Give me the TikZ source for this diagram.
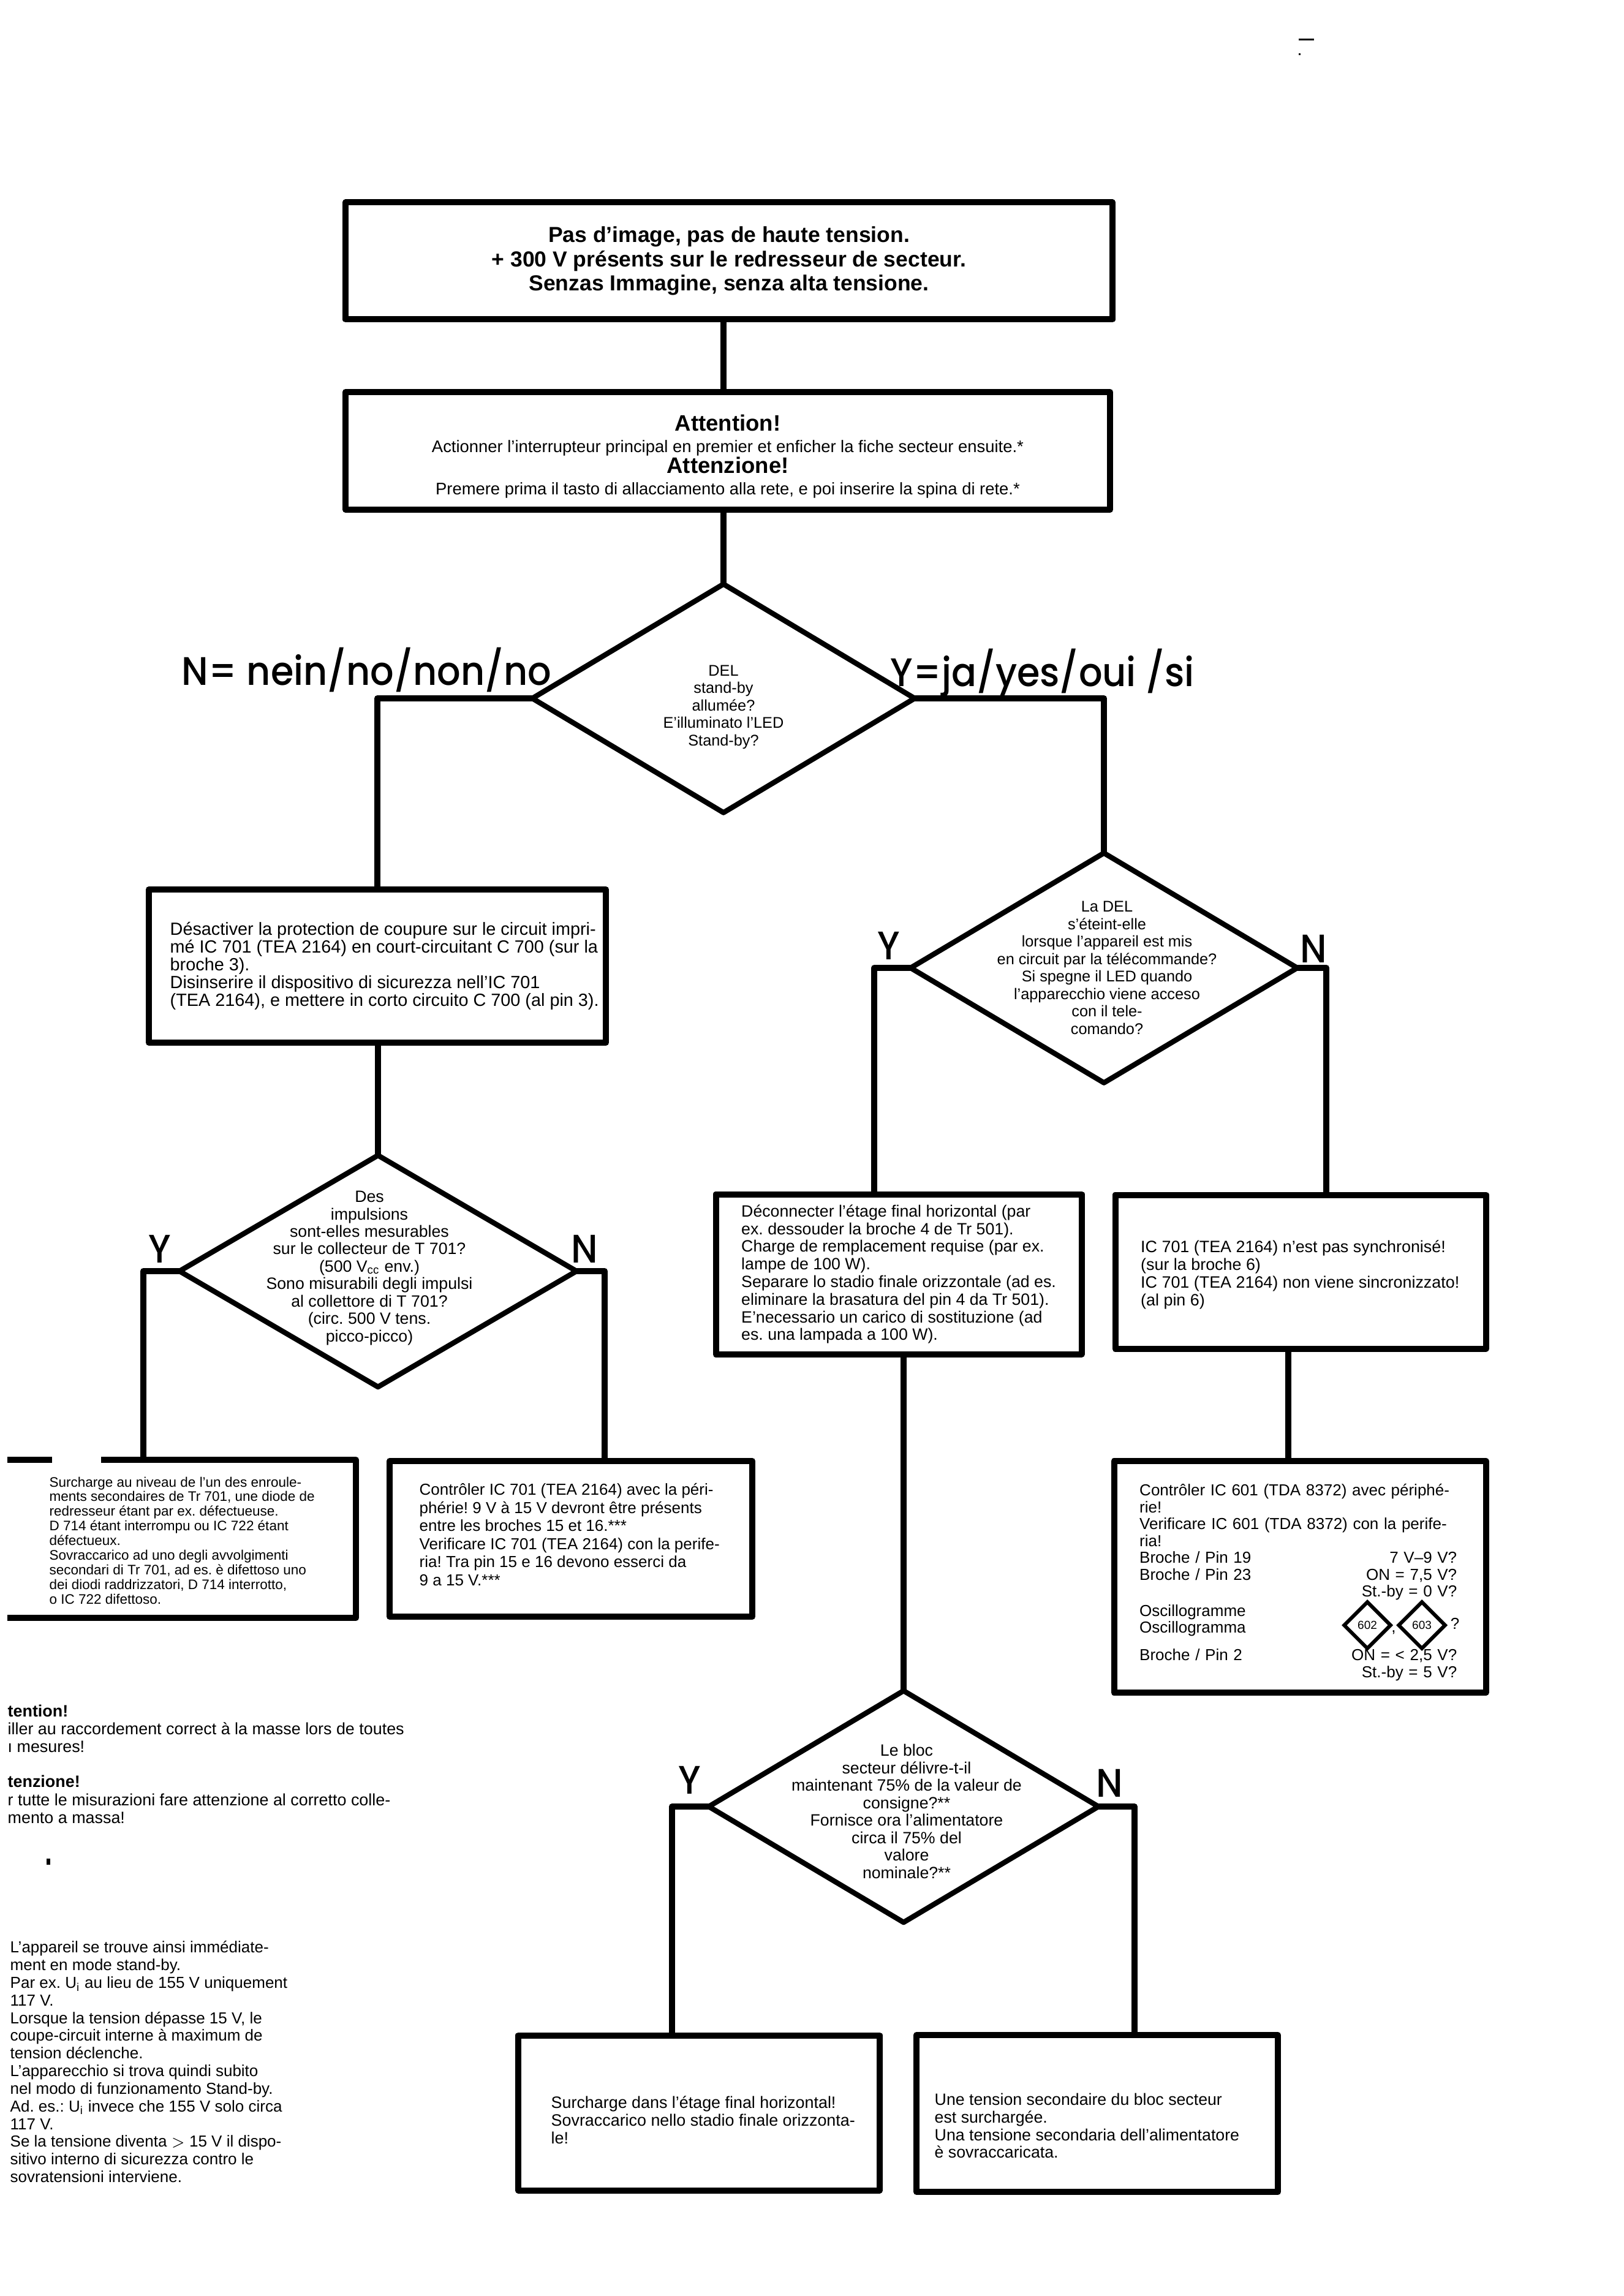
\documentclass[tikz,border=0pt]{standalone}
\usepackage{fontspec}
\setmainfont{Liberation Sans}
\newfontfamily\labelfont[FakeStretch=0.93]{Poppins Medium}
\usepackage{tikz}
\usetikzlibrary{shapes.geometric}
\tikzset{
  box/.style={draw,rectangle,line width=0.10cm,line join=round,inner sep=0pt},
  boxtext/.style={anchor=west,align=left,inner sep=0pt},
  cond/.style={draw,diamond,line width=0.085cm,line join=round,inner sep=0pt,outer sep=0pt,aspect=1.7},
  condtext/.style={align=center,inner sep=0pt,font=\frenchspacing\fontsize{7.2}{8.1}\selectfont},
  conn/.style={line width=0.10cm,line join=round},
  letter/.style={inner sep=0pt,font=\labelfont\fontsize{18.5}{18.5}\selectfont},
  banner/.style={inner sep=0pt,font=\labelfont\fontsize{18.5}{18.5}\selectfont},
  note/.style={anchor=north west,align=left,inner sep=0pt,font=\frenchspacing\fontsize{7.4}{8.2}\selectfont},
  scope602/.style={draw,diamond,line width=0.06cm,aspect=1,inner sep=0pt,minimum size=0.78cm,font=\fontsize{5.4}{6}\selectfont},
}
\newcommand{\boxfont}[2]{\frenchspacing\fontsize{#1}{#2}\selectfont}
\begin{document}
\begin{tikzpicture}
  \useasboundingbox (0,0) rectangle (26.5,-37.48);
  % top boxes
  \node[box,minimum width=12.52cm,minimum height=1.91cm,align=center,font=\boxfont{10.1}{11.2}\bfseries] (B1) at (11.90,-4.26)
    {Pas d'image, pas de haute tension.\\+ 300 V présents sur le redresseur de secteur.\\Senzas Immagine, senza alta tensione.};
  \node[box,minimum width=12.48cm,minimum height=1.92cm] (B2) at (11.88,-7.36) {};
  \node[align=center,inner sep=0pt,font=\boxfont{7.8}{9.8}] (T0) at ([yshift=-0.09cm]B2)
    {{\fontsize{10.4}{9.8}\selectfont\bfseries Attention!}\\Actionner l'interrupteur principal en premier et enficher la fiche secteur ensuite.*\\
     {\fontsize{10.4}{9.8}\selectfont\bfseries Attenzione!}\\Premere prima il tasto di allacciamento alla rete, e poi inserire la spina di rete.*};
  % conditions
  \node[cond,minimum width=6.24cm,minimum height=3.73cm] (D1) at (11.81,-11.40) {};
  \node[condtext] (T1) at ([yshift=-0.14cm]D1) {DEL\\stand-by\\allumée?\\E'illuminato l'LED\\Stand-by?};
  \node[cond,minimum width=6.31cm,minimum height=3.75cm] (D2) at (18.02,-15.80) {};
  \node[condtext] (T2) at ([xshift=0.05cm]D2) {La DEL\\s'éteint-elle\\lorsque l'appareil est mis\\en circuit par la télécommande?\\Si spegne il LED quando\\l'apparecchio viene acceso\\con il tele-\\comando?};
  \node[cond,minimum width=6.48cm,minimum height=3.78cm] (D3) at (6.17,-20.75) {};
  \node[condtext,font=\boxfont{7.6}{8.1}] (T3) at ([xshift=-0.14cm,yshift=0.05cm]D3) {Des\\impulsions\\sont-elles mesurables\\sur le collecteur de T 701?\\(500 V\textsubscript{cc} env.)\\Sono misurabili degli impulsi\\al collettore di T 701?\\(circ. 500 V tens.\\picco-picco)};
  \node[cond,minimum width=6.36cm,minimum height=3.78cm] (D4) at (14.75,-29.49) {};
  \node[condtext,font=\boxfont{7.6}{8.1}] (T4) at ([xshift=0.05cm,yshift=-0.08cm]D4) {Le bloc\\secteur délivre-t-il\\maintenant 75\% de la valeur de\\consigne?**\\Fornisce ora l'alimentatore\\circa il 75\% del\\valore\\nominale?**};
  % text boxes
  \node[box,minimum width=7.46cm,minimum height=2.50cm] (B3) at (6.16,-15.77) {};
  \node[boxtext,font=\boxfont{8.2}{8.2}] (T5) at ([xshift=0.39cm]B3.west)
    {Désactiver la protection de coupure sur le circuit impri-\\mé IC 701 (TEA 2164) en court-circuitant C 700 (sur la\\broche 3).\\Disinserire il dispositivo di sicurezza nell'IC 701\\(TEA 2164), e mettere in corto circuito C 700 (al pin 3).};
  \node[box,minimum width=5.92cm,minimum height=2.54cm] (B5) at (9.32,-25.12) {};
  \node[boxtext,font=\boxfont{7.4}{8.4}] (T6) at ([xshift=0.53cm,yshift=0.07cm]B5.west)
    {Contrôler IC 701 (TEA 2164) avec la péri-\\phérie! 9 V à 15 V devront être présents\\entre les broches 15 et 16.***\\Verificare IC 701 (TEA 2164) con la perife-\\ria! Tra pin 15 e 16 devono esserci da\\9 a 15 V.***};
  \node[box,minimum width=5.97cm,minimum height=2.61cm] (B6) at (14.67,-20.80) {};
  \node[boxtext,font=\boxfont{7.6}{8.2}] (T7) at ([xshift=0.46cm]B6.west)
    {Déconnecter l'étage final horizontal (par\\ex. dessouder la broche 4 de Tr 501).\\Charge de remplacement requise (par ex.\\lampe de 100 W).\\Separare lo stadio finale orizzontale (ad es.\\eliminare la brasatura del pin 4 da Tr 501).\\E'necessario un carico di sostituzione (ad\\es. una lampada a 100 W).};
  \node[box,minimum width=6.05cm,minimum height=2.51cm] (B7) at (21.23,-20.76) {};
  \node[boxtext,font=\boxfont{7.65}{8.2}] (T8) at ([xshift=0.46cm,yshift=-0.05cm]B7.west)
    {IC 701 (TEA 2164) n'est pas synchronisé!\\(sur la broche 6)\\IC 701 (TEA 2164) non viene sincronizzato!\\(al pin 6)};
  \node[box,minimum width=6.07cm,minimum height=3.78cm] (B8) at (21.22,-25.74) {};
  \node[boxtext,text width=5.18cm,font=\boxfont{7.4}{7.85}] (T9) at ([xshift=0.46cm,yshift=-0.09cm]B8.west)
    {Contrôler IC 601 (TDA 8372) avec périphé-\\rie!\\Verificare IC 601 (TDA 8372) con la perife-\\ria!\\
     Broche / Pin 19\hfill 7 V--9 V?\\Broche / Pin 23\hfill ON = 7,5 V?\\\mbox{}\hfill St.-by = 0 V?\\[1pt]
     Oscillogramme\\Oscillogramma\\[5pt]Broche / Pin 2\hfill ON = < 2,5 V?\\\mbox{}\hfill St.-by = 5 V?};
  \node[box,minimum width=5.90cm,minimum height=2.53cm] (B9) at (11.41,-34.49) {};
  \node[boxtext,font=\boxfont{7.65}{8.2}] (T10) at ([xshift=0.58cm,yshift=-0.12cm]B9.west)
    {Surcharge dans l'étage final horizontal!\\Sovraccarico nello stadio finale orizzonta-\\le!};
  \node[box,minimum width=5.90cm,minimum height=2.56cm] (B10) at (17.91,-34.50) {};
  \node[boxtext,font=\boxfont{7.6}{8.2}] (T11) at ([xshift=0.34cm,yshift=-0.2cm]B10.west)
    {Une tension secondaire du bloc secteur\\est surchargée.\\Una tensione secondaria dell'alimentatore\\è sovraccaricata.};
  % box cut off by the page edge
  \coordinate (P1) at (0.12,-23.83);
  \coordinate (P2) at (0.85,-23.83);
  \coordinate (P3) at (1.65,-23.83);
  \coordinate (P4) at (5.81,-23.83);
  \coordinate (P5) at (5.81,-26.41);
  \coordinate (P6) at (0.12,-26.41);
  \draw[conn] (P1) -- (P2) (P3) -- (P4) -- (P5) -- (P6);
  \node[note,font=\boxfont{6.4}{6.8}] (B4) at (0.80,-24.10)
    {Surcharge au niveau de l'un des enroule-\\ments secondaires de Tr 701, une diode de\\redresseur étant par ex. défectueuse.\\D 714 étant interrompu ou IC 722 étant\\défectueux.\\Sovraccarico ad uno degli avvolgimenti\\secondari di Tr 701, ad es. è difettoso uno\\dei diodi raddrizzatori, D 714 interrotto,\\o IC 722 difettoso.};
  % oscillogram marks
  \node[scope602] (O2) at (22.32,-26.53) {602};
  \node[scope602] (O3) at (23.21,-26.53) {603};
  \node[inner sep=0pt,font=\boxfont{7.4}{8.4}] (O4) at (22.75,-26.65) {,};
  \node[inner sep=0pt,font=\boxfont{7.4}{8.4}] (O5) at (23.75,-26.50) {?};
  % end points on the boxes
  \coordinate (E4) at (2.34,-23.83);
  \coordinate (E5) at (9.87,-23.85);
  \coordinate (E6) at (14.27,-19.50);
  \coordinate (E7) at (21.65,-19.50);
  \coordinate (E8) at (21.03,-22.01);
  \coordinate (E9) at (10.97,-33.22);
  \coordinate (E10) at (18.52,-33.22);
  \draw[conn] (D1.north |- B1.south) -- (D1.north |- B2.north);
  \draw[conn] (D1.north |- B2.south) -- (D1.north);
  \draw[conn] (D1.west) -| (B3.north);
  \draw[conn] (D1.east) -| (D2.north);
  \draw[conn] (D3.north |- B3.south) -- (D3.north);
  \draw[conn] (D3.west) -| (E4);
  \draw[conn] (D3.east) -| (E5);
  \draw[conn] (D2.west) -| (E6);
  \draw[conn] (D2.east) -| (E7);
  \draw[conn] (D4.north |- B6.south) -- (D4.north);
  \draw[conn] (E8) -- (E8 |- B8.north);
  \draw[conn] (D4.west) -| (E9);
  \draw[conn] (D4.east) -| (E10);
  % labels
  \node[banner,anchor=base west] (N0) at (2.96,-11.18) {N= nein/no/non/no};
  \node[banner,anchor=base west] (Y0) at (14.53,-11.20) {Y=ja/yes/oui /si};
  \node[letter] (Y1) at (14.51,-15.44) {Y};
  \node[letter] (N1) at (21.44,-15.49) {N};
  \node[letter] (Y2) at (2.61,-20.39) {Y};
  \node[letter] (N2) at (9.54,-20.39) {N};
  \node[letter] (Y3) at (11.26,-29.06) {Y};
  \node[letter] (N3) at (18.11,-29.11) {N};
  % footnotes
  \node[note,font=\boxfont{7.65}{8.3}] (F1) at (0.12,-27.82)
    {\textbf{tention!}\\iller au raccordement correct à la masse lors de toutes\\ı mesures!\\[8pt]\textbf{tenzione!}\\r tutte le misurazioni fare attenzione al corretto colle-\\mento a massa!};
  \node[note] (F2) at (0.16,-31.68)
    {L'appareil se trouve ainsi immédiate-\\ment en mode stand-by.\\Par ex. U\textsubscript{i} au lieu de 155 V uniquement\\117 V.\\Lorsque la tension dépasse 15 V, le\\coupe-circuit interne à maximum de\\tension déclenche.\\L'apparecchio si trova quindi subito\\nel modo di funzionamento Stand-by.\\Ad. es.: U\textsubscript{i} invece che 155 V solo circa\\117 V.\\Se la tensione diventa $>$ 15 V il dispo-\\sitivo interno di sicurezza contro le\\sovratensioni interviene.};
  % marks on the sheet
  \fill (21.2,-0.66) rectangle (21.45,-0.63);
  \fill (21.2,-0.9) rectangle (21.23,-0.87);
  \fill (0.76,-30.44) rectangle (0.82,-30.34);
\end{tikzpicture}
\end{document}
